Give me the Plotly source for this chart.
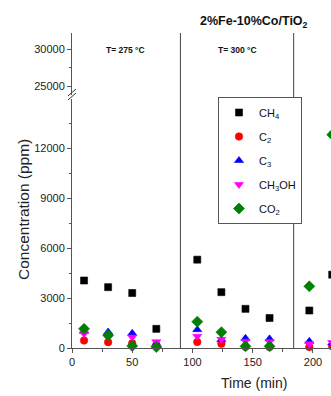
import plotly.graph_objects as go

# ---- data ----
time_min = [10, 30, 50, 70, 104, 124, 144, 164, 197, 216]
ch4 = [4050, 3650, 3300, 1150, 5300, 3350, 2350, 1800, 2250, 4400]
c2 = [450, 350, 280, 200, 360, 250, 80, 60, 60, 100]
c3 = [1000, 960, 880, 250, 1100, 500, 580, 550, 400, 300]
ch3oh = [850, 650, 650, 370, 700, 520, 400, 380, 250, 330]
co2 = [1150, 760, 120, 60, 1580, 950, 100, 100, 3700, 12800]

series_names = ["CH<sub>4</sub>", "C<sub>2</sub>", "C<sub>3</sub>", "CH<sub>3</sub>OH", "CO<sub>2</sub>"]
series_values = [ch4, c2, c3, ch3oh, co2]
series_colors = ["#000000", "#ff0000", "#0000ff", "#ff00ff", "#008000"]
series_symbols = ["square", "circle", "triangle-up", "triangle-down", "diamond"]
series_sizes = [7, 7.5, 8, 8, 8.5]

stage_bounds = [90, 184]
stage_labels = ["T= 275 °C", "T= 300 °C", "T= 325 °C"]
stage_label_x = [44, 137, 234]

x_ticks = [0, 50, 100, 150, 200]
y_low_ticks = [0, 3000, 6000, 9000, 12000]
y_high_ticks = [25000, 30000]

FONT = "Liberation Sans, Arial, sans-serif"
AX = "#555555"

# the reference is a crop of a wider chart: draw wider, the window shows the left 331 px
W, H = 400, 396
ML, MR, MT, MB = 72, 0, 33, 48
PW, PH = W - ML - MR, H - MT - MB
PX_PER_MIN = 259 / 215.0
X_MAX = PW / PX_PER_MIN


def py(pix):
    """pixel y (from top) -> paper y"""
    return (H - MB - pix) / PH


def px(pix):
    return (pix - ML) / PW


fig = go.Figure()
for name, vals, col, sym, sz in zip(series_names, series_values, series_colors, series_symbols, series_sizes):
    fig.add_trace(go.Scatter(
        x=time_min, y=vals, mode="markers", name=name, legendgroup=name,
        marker=dict(symbol=sym, color=col, size=sz, line=dict(width=0.6, color=col)),
        cliponaxis=False, xaxis="x", yaxis="y",
    ))

# dummy trace so yaxis2 is shown
fig.add_trace(go.Scatter(x=[None], y=[None], xaxis="x", yaxis="y2", showlegend=False, hoverinfo="skip"))

low_top = py(99)
high_bot = py(95)

fig.update_layout(
    width=W, height=H,
    margin=dict(l=ML, r=MR, t=MT, b=MB),
    paper_bgcolor="white", plot_bgcolor="white",
    font=dict(family=FONT, size=11, color="#222222"),
    showlegend=True,
    legend=dict(
        x=px(218), y=py(97), xanchor="left", yanchor="top",
        bgcolor="white", bordercolor=AX, borderwidth=1,
        font=dict(family=FONT, size=11, color="#111111"),
        tracegroupgap=5, itemwidth=30,
    ),
    xaxis=dict(
        range=[0, X_MAX], domain=[0, 1], anchor="y",
        tickvals=x_ticks, ticks="outside", ticklen=4, tickcolor=AX,
        showline=True, linecolor=AX, linewidth=1, showgrid=False, zeroline=False,
        minor=dict(dtick=25, tick0=0, ticks="outside", ticklen=2.5, tickcolor=AX),
        tickfont=dict(size=11), tickformat="d",
    ),
    yaxis=dict(
        range=[0, 14940], domain=[0, low_top], anchor="x",
        tickvals=y_low_ticks, ticks="outside", ticklen=4, tickcolor=AX,
        showline=True, linecolor=AX, linewidth=1, showgrid=False, zeroline=False,
        minor=dict(dtick=1500, tick0=0, ticks="outside", ticklen=2.5, tickcolor=AX),
        tickfont=dict(size=11), tickformat="d",
    ),
    yaxis2=dict(
        range=[23784, 32162], domain=[high_bot, 1], anchor="x",
        tickvals=y_high_ticks, ticks="outside", ticklen=4, tickcolor=AX,
        showline=True, linecolor=AX, linewidth=1, showgrid=False, zeroline=False,
        minor=dict(dtick=2500, tick0=0, ticks="outside", ticklen=2.5, tickcolor=AX),
        tickfont=dict(size=11), tickformat="d",
    ),
)

shapes = []
for b in stage_bounds:
    shapes.append(dict(type="line", xref="x", yref="paper", x0=b, x1=b, y0=0, y1=1,
                       line=dict(color="#444444", width=1)))
# axis break marks
for dy in (0, 4):
    shapes.append(dict(type="line", xref="paper", yref="paper",
                       x0=px(68), x1=px(76), y0=py(100 - dy), y1=py(93 - dy),
                       line=dict(color="#333333", width=1)))
fig.update_layout(shapes=shapes)

ann = []
for lab, xv in zip(stage_labels, stage_label_x):
    ann.append(dict(text=f"<b>{lab}</b>", x=xv, xref="x", y=py(50), yref="paper",
                    showarrow=False, xanchor="center", yanchor="middle",
                    font=dict(size=8.5, family=FONT, color="#111111")))
ann.append(dict(text="<b>2%Fe-10%Co/TiO<sub>2</sub></b>", x=px(254), xref="paper", y=py(22), yref="paper",
                showarrow=False, xanchor="center", yanchor="middle",
                font=dict(size=12.5, family=FONT, color="#111111")))
ann.append(dict(text="Time (min)", x=px(254), xref="paper", y=py(383), yref="paper",
                showarrow=False, xanchor="center", yanchor="middle",
                font=dict(size=14, family=FONT, color="#222222")))
ann.append(dict(text="Concentration (ppm)", x=px(23), xref="paper", y=py(210), yref="paper",
                showarrow=False, xanchor="center", yanchor="middle", textangle=-90,
                font=dict(size=15.5, family=FONT, color="#222222")))
fig.update_layout(annotations=ann)

fig.write_html("out.html", config={"displayModeBar": False})

# remove the default page margin so the figure sits at the window's top-left corner
with open("out.html", "r", encoding="utf-8") as f:
    html = f.read()
html = html.replace("<head>", "<head><style>html,body{margin:0;padding:0;overflow:hidden;}</style>", 1)
with open("out.html", "w", encoding="utf-8") as f:
    f.write(html)
